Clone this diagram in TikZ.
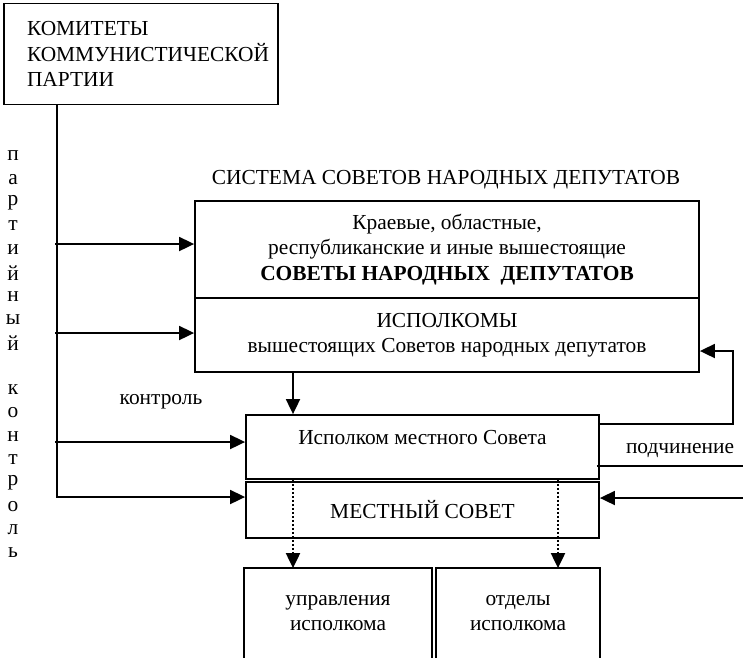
\documentclass[tikz,border=0pt]{standalone}
\usepackage{fontspec}
\setmainfont{Liberation Serif}
\usetikzlibrary{arrows.meta}

\begin{document}
\begin{tikzpicture}[x=1pt,y=-1pt,>={Triangle[length=15pt,width=14pt]},
  line width=1.8pt]
\tikzset{box/.style = {draw, rectangle, inner sep=0pt, align=center,
                       font=\fontsize{21.4}{25.5}\selectfont},
         plain/.style = {inner sep=0pt, font=\fontsize{21.4}{25.5}\selectfont},
         dotarr/.style = {->, dotted, line width=2pt}
  }
\useasboundingbox (0,0) rectangle (743,657);

\node[box, minimum width=274pt, minimum height=101pt, align=left,
      text width=228pt, inner xsep=23pt] (kpss) at (141,54)
  {КОМИТЕТЫ\\КОММУНИСТИЧЕСКОЙ\\ПАРТИИ};

\node[plain] (title) at (446,180) {СИСТЕМА СОВЕТОВ НАРОДНЫХ ДЕПУТАТОВ};
\node[box, minimum width=504pt, minimum height=97pt] (sov) at (447,249.5)
  {Краевые, областные,\\республиканские и иные вышестоящие\\
   \textbf{СОВЕТЫ НАРОДНЫХ\ \ ДЕПУТАТОВ}};
\node[box, minimum width=504pt, minimum height=74pt] (isp) at (447,335)
  {ИСПОЛКОМЫ\\вышестоящих Советов народных депутатов};

\node[box, minimum width=353pt, minimum height=64pt,
      label={[plain,yshift=9pt]center:Исполком местного Совета}] (ispm) at (422.5,447) {};
\node[box, minimum width=353pt, minimum height=56pt] (mest) at (422.5,510)
  {МЕСТНЫЙ СОВЕТ};

\node[plain, minimum width=186pt, minimum height=88pt, align=center] (upr) at (338,613)
  {управления\\исполкома};
\node[plain, minimum width=162pt, minimum height=88pt, align=center] (otd) at (518,613)
  {отделы\\исполкома};
\draw (upr.south west) -- (upr.north west) -- (upr.north east) -- (upr.south east);
\draw (otd.south west) -- (otd.north west) -- (otd.north east) -- (otd.south east);

\node[plain] (kontr) at (161,402) {контроль};
\node[plain] (podch) at (680,451) {подчинение};

% partiyny kontrol
\foreach \ch [count=\i] in {п,а,р,т,и,й,н,ы,й,{},к,о,н,т,р,о,л,ь}
  \node[plain] (v\i) at (13,{156+23.35*(\i-1)}) {\ch};

\coordinate (p1) at (55,244);
\coordinate (p2) at (55,333);
\coordinate (p3) at (55,442);
\coordinate (cl) at (293,0);
\coordinate (cr) at (558,0);
\coordinate (loop) at (733,351);
\coordinate (q1) at (743,466);
\coordinate (q2) at (743,498);

%-----------------------------
\draw[->] ([xshift=54pt]kpss.south west) |- ([yshift=13pt]mest.west);
\draw[->] (p1) -- ([yshift=5.5pt]sov.west);
\draw[->] (p2) -- ([yshift=2pt]isp.west);
\draw[->] (p3) -- ([yshift=5pt]ispm.west);
%-----------------------------
\draw[->] (isp.south -| cl) -- (ispm.north -| cl);
\draw[->] ([yshift=23pt]ispm.east) -| (loop) -- ([yshift=-16pt]isp.east);
\draw ([xshift=-3pt,yshift=-19pt]ispm.east) -- (q1);
\draw[->] (q2) -- ([yshift=12pt]mest.east);
%-----------------------------
\draw[dotarr] (ispm.south -| cl) -- (upr.north -| cl);
\draw[dotarr] (ispm.south -| cr) -- (otd.north -| cr);

\end{tikzpicture}
\end{document}
